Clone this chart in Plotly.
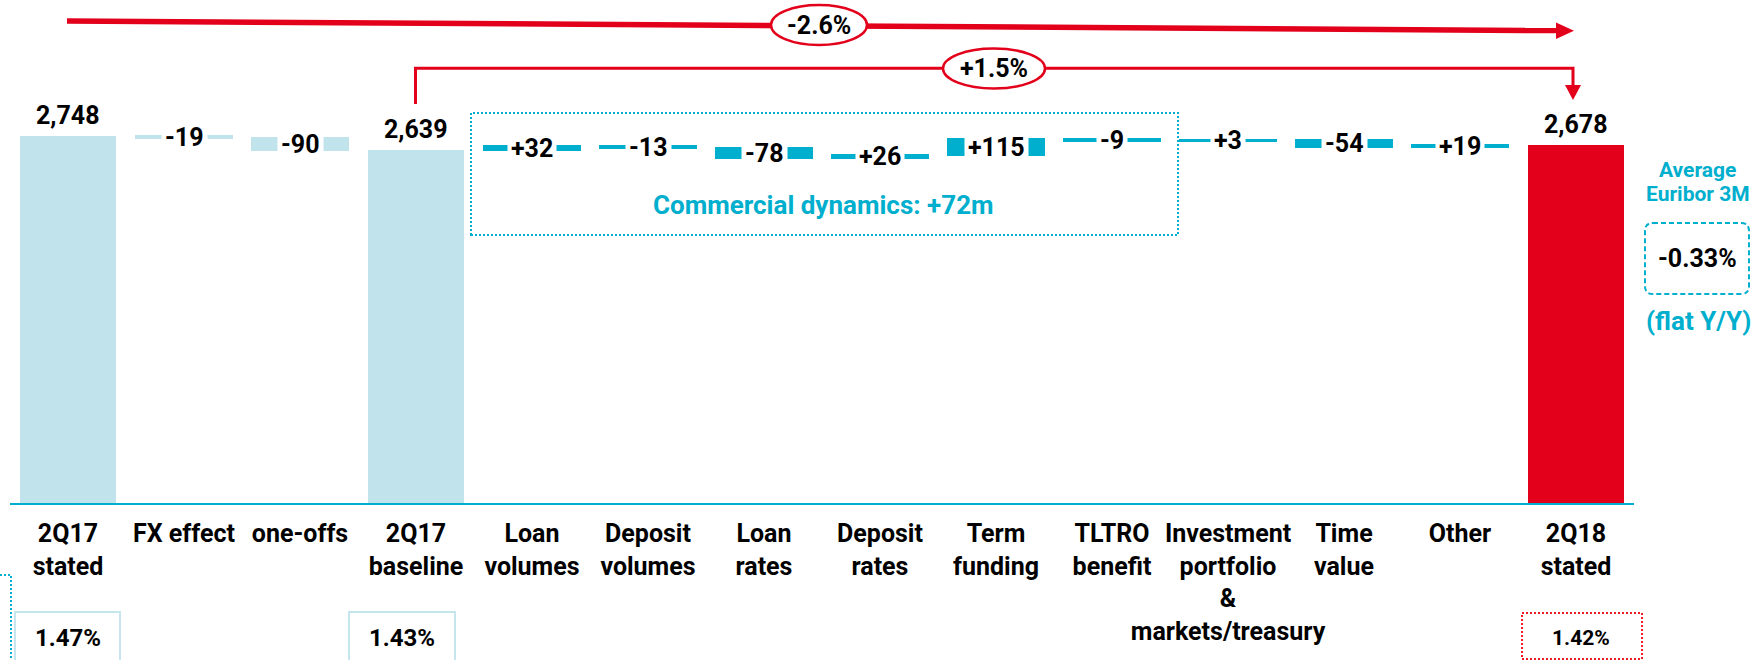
import plotly.graph_objects as go

# ---- data -------------------------------------------------------------
categories = ["2Q17 stated", "FX effect", "one-offs", "2Q17 baseline",
              "Loan volumes", "Deposit volumes", "Loan rates", "Deposit rates",
              "Term funding", "TLTRO benefit",
              "Investment portfolio & markets/treasury", "Time value",
              "Other", "2Q18 stated"]
tick_labels = ["2Q17<br>stated", "FX effect", "one-offs", "2Q17<br>baseline",
               "Loan<br>volumes", "Deposit<br>volumes", "Loan<br>rates",
               "Deposit<br>rates", "Term<br>funding", "TLTRO<br>benefit",
               "Investment<br>portfolio<br>&<br>markets/treasury",
               "Time<br>value", "Other", "2Q18<br>stated"]
values = [2748, -19, -90, 2639, 32, -13, -78, 26, 115, -9, 3, -54, 19, 2678]
is_total = [True, False, False, True, False, False, False, False, False,
            False, False, False, False, True]
groups = ["base", "base", "base", "base", "comm", "comm", "comm", "comm",
          "comm", "comm", "comm", "comm", "comm", "end"]

nim_labels = {0: "1.47%", 3: "1.43%", 13: "1.42%"}
change_total = "-2.6%"
change_baseline = "+1.5%"
commercial_text = "Commercial dynamics: +72m"
euribor_value = "-0.33%"

# ---- styling ------------------------------------------------------------
RED = "#e2001a"
LIGHT = "#c0e3ec"
TEAL = "#00aecd"
FONT = "Roboto"
palette = {"base": LIGHT, "comm": TEAL, "end": RED}

W, H = 1758, 660
PL, PR, PT, PB = 10, 1634, 0, 503      # plot area in pixels
YMAX = 3765


def px(x):
    return (x - PL) / (PR - PL)


def py(y):
    return (PB - y) / (PB - PT)


# ---- waterfall geometry --------------------------------------------------
bases, heights, colors, texts, mids, edge_w = [], [], [], [], [], []
running = 0
for v, tot, g in zip(values, is_total, groups):
    if tot:
        running = v
        bases.append(0)
        heights.append(v)
        texts.append(f"{v:,}")
        mids.append(v)
        edge_w.append(0)
    else:
        lo = min(running, running + v)
        bases.append(lo)
        heights.append(abs(v))
        texts.append(f"{v:+d}")
        mids.append(lo + abs(v) / 2)
        running += v
        edge_w.append(2)
    colors.append(palette[g])

xs = list(range(len(categories)))

fig = go.Figure(go.Bar(
    x=xs, y=heights, base=bases, width=0.82,
    marker=dict(color=colors, line=dict(width=edge_w, color=colors)),
    hovertext=categories, hoverinfo="text",
))

annotations = []
label_font = dict(family=FONT, size=25, color="#000", weight=700)
for k, (t, tot) in enumerate(zip(texts, is_total)):
    if tot:
        annotations.append(dict(x=k, y=mids[k], xref="x", yref="y", text=t,
                                showarrow=False, yanchor="bottom", yshift=4,
                                font=label_font))
    else:
        annotations.append(dict(x=k, y=mids[k], xref="x", yref="y", text=t,
                                showarrow=False, yanchor="middle",
                                bgcolor="white", borderpad=3,
                                font=label_font))


def note(text, x, y, size, color="#000", weight=700):
    annotations.append(dict(x=px(x), y=py(y), xref="paper", yref="paper",
                            text=text, showarrow=False, xanchor="center",
                            yanchor="middle",
                            font=dict(family=FONT, size=size, color=color,
                                      weight=weight)))


shapes = []


def path(d, color, width=0, dash="solid", fill=None):
    s = dict(type="path", xref="paper", yref="paper", path=d,
             line=dict(color=color, width=width, dash=dash))
    if fill:
        s["fillcolor"] = fill
    if width == 0:
        s["line"] = dict(width=0)
    shapes.append(s)


def P(x, y):
    return f"{px(x):.5f},{py(y):.5f}"


# long arrow: 2Q17 stated -> 2Q18 stated
path(f"M {P(67, 21)} L {P(1558, 30.6)}", RED, 5.5)
path(f"M {P(1556, 22.5)} L {P(1574, 30.7)} L {P(1556, 38.9)} Z", RED, fill=RED)

# bracket: 2Q17 baseline -> 2Q18 stated
path(f"M {P(415.5, 104)} L {P(415.5, 68.3)} L {P(1573, 68.3)} L {P(1573, 87)}",
     RED, 3)
path(f"M {P(1565, 85)} L {P(1581, 85)} L {P(1573, 100)} Z", RED, fill=RED)

# ellipses holding the growth rates
for (x0, x1, y0, y1) in [(771, 867, 5, 45), (943, 1045, 48.5, 88.5)]:
    shapes.append(dict(type="circle", xref="paper", yref="paper",
                       x0=px(x0), x1=px(x1), y0=py(y1), y1=py(y0),
                       line=dict(color=RED, width=2.5), fillcolor="white"))
note(change_total, 819, 26, 25)
note(change_baseline, 994, 68.5, 25)

# commercial dynamics frame
shapes.append(dict(type="rect", xref="paper", yref="paper",
                   x0=px(471), x1=px(1178), y0=py(235), y1=py(113),
                   line=dict(color=TEAL, width=2, dash="2px,2px")))
note(commercial_text, 823, 205, 26, TEAL)

# NIM boxes under the axis
for k, (x0, x1) in {0: (15, 120), 3: (349, 455)}.items():
    shapes.append(dict(type="rect", xref="paper", yref="paper",
                       x0=px(x0), x1=px(x1), y0=py(668), y1=py(612),
                       line=dict(color="#c6e6ee", width=2)))
    note(nim_labels[k], (x0 + x1) / 2, 637.5, 24)
shapes.append(dict(type="rect", xref="paper", yref="paper",
                   x0=px(1522), x1=px(1642), y0=py(659), y1=py(613),
                   line=dict(color="#ee1c25", width=2, dash="2px,2px")))
note(nim_labels[13], 1581, 637.5, 21)

# partial dotted frame on the far left
path(f"M {P(0, 575)} L {P(11, 575)} L {P(11, 668)}", TEAL, 2, dash="2px,2px")

# Euribor side note
bx0, bx1, by0, by1, r = 1645, 1749, 223, 294, 8
path(f"M {P(bx0 + r, by0)} L {P(bx1 - r, by0)} Q {P(bx1, by0)} {P(bx1, by0 + r)} "
     f"L {P(bx1, by1 - r)} Q {P(bx1, by1)} {P(bx1 - r, by1)} "
     f"L {P(bx0 + r, by1)} Q {P(bx0, by1)} {P(bx0, by1 - r)} "
     f"L {P(bx0, by0 + r)} Q {P(bx0, by0)} {P(bx0 + r, by0)} Z",
     TEAL, 2, dash="5px,3px")
note("Average", 1697, 170, 21, TEAL)
note("Euribor 3M", 1698, 194, 21, TEAL)
note(euribor_value, 1697, 258, 25)
note("(flat Y/Y)", 1698, 321, 26, TEAL)

fig.update_layout(
    width=W, height=H,
    margin=dict(l=PL, r=W - PR, t=PT, b=H - PB, pad=0),
    paper_bgcolor="white", plot_bgcolor="white",
    showlegend=False, bargap=0,
    xaxis=dict(range=[-0.5, 13.5], tickmode="array", tickvals=xs,
               ticktext=tick_labels, tickangle=0, ticks="",
               showline=True, linecolor=TEAL, linewidth=2,
               showgrid=False, zeroline=False, ticklabelstandoff=7,
               tickfont=dict(family=FONT, size=25, color="#000", weight=700)),
    yaxis=dict(range=[0, YMAX], visible=False, showgrid=False,
               zeroline=False),
    shapes=shapes,
    annotations=annotations,
)

fig.write_html("out.html")
